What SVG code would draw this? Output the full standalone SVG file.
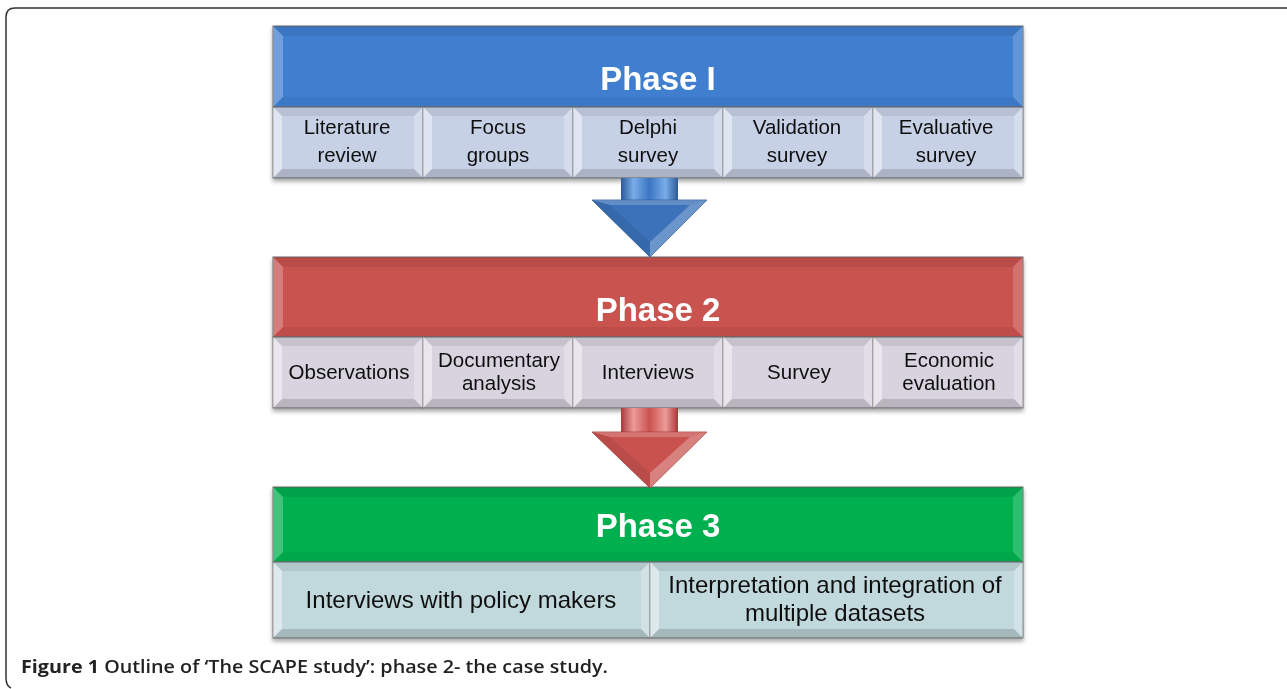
<svg xmlns="http://www.w3.org/2000/svg" xmlns:xlink="http://www.w3.org/1999/xlink" width="1287" height="689" viewBox="0 0 1287 689">
<style>
.hdr{font-family:"Liberation Sans",Arial,sans-serif;font-weight:bold;font-size:33px;fill:#fff;text-anchor:middle}
.lbl{font-family:"Liberation Sans",Arial,sans-serif;font-size:20.5px;fill:#111;text-anchor:middle}
.lbl3{font-family:"Liberation Sans",Arial,sans-serif;font-size:24px;fill:#111;text-anchor:middle}
.cap{font-family:"Open Sans","Liberation Sans",sans-serif;font-size:17.5px;fill:#222;font-weight:600}
.cell{stroke:#6b6b6b;stroke-width:1}
.bt{fill:#000;fill-opacity:0.08}
.bl{fill:#fff;fill-opacity:0.45}
.br{fill:#fff;fill-opacity:0.25}
.bb{fill:#000;fill-opacity:0.14}
.ht{fill:#000;fill-opacity:0.08}
.hl{fill:#fff;fill-opacity:0.25}
.hr{fill:#fff;fill-opacity:0.18}
.hb{fill:#000;fill-opacity:0.05}
</style>
<defs>
<filter id="sh" x="-5%" y="-10%" width="110%" height="130%">
<feDropShadow dx="0" dy="3" stdDeviation="2" flood-color="#000" flood-opacity="0.35"/>
</filter>
<g id="bev">
<polygon class="bt" points="0,0 150,0 141,9 9,9"/>
<polygon class="bl" points="0,0 9,9 9,62 0,71"/>
<polygon class="br" points="150,0 150,71 141,62 141,9"/>
<polygon class="bb" points="0,71 150,71 141,62 9,62"/>
</g>
<linearGradient id="shaftB" x1="0" y1="0" x2="1" y2="0">
<stop offset="0" stop-color="#2c5a96"/>
<stop offset="0.22" stop-color="#79acea"/>
<stop offset="0.5" stop-color="#3b76c2"/>
<stop offset="0.78" stop-color="#79acea"/>
<stop offset="1" stop-color="#2c5a96"/>
</linearGradient>
<linearGradient id="shaftR" x1="0" y1="0" x2="1" y2="0">
<stop offset="0" stop-color="#a23c39"/>
<stop offset="0.22" stop-color="#ee9a97"/>
<stop offset="0.5" stop-color="#c9524f"/>
<stop offset="0.78" stop-color="#ee9a97"/>
<stop offset="1" stop-color="#a23c39"/>
</linearGradient>
</defs>
<rect x="0" y="0" width="1287" height="689" fill="#fff"/>
<path d="M1287 8 H15 Q6 8 6 17 V678 Q6 686 11 688" fill="none" stroke="#333" stroke-width="1.5"/>

<g id="phase1" filter="url(#sh)">
<rect x="273" y="26" width="750" height="81" fill="#3f7fd0" class="cell"/>
<polygon class="ht" points="273,26 1023,26 1013,36 283,36"/>
<polygon class="hl" points="273,26 283,36 283,97 273,107"/>
<polygon class="hr" points="1023,26 1023,107 1013,97 1013,36"/>
<polygon class="hb" points="273,107 1023,107 1013,97 283,97"/>
<text class="hdr" x="658" y="90">Phase I</text>
<g fill="#c7d1e6">
<rect class="cell" x="273" y="107" width="150" height="71"/>
<rect class="cell" x="423" y="107" width="150" height="71"/>
<rect class="cell" x="573" y="107" width="150" height="71"/>
<rect class="cell" x="723" y="107" width="150" height="71"/>
<rect class="cell" x="873" y="107" width="150" height="71"/>
</g>
<use xlink:href="#bev" x="273" y="107"/>
<use xlink:href="#bev" x="423" y="107"/>
<use xlink:href="#bev" x="573" y="107"/>
<use xlink:href="#bev" x="723" y="107"/>
<use xlink:href="#bev" x="873" y="107"/>
<text class="lbl" x="347" y="134">Literature</text><text class="lbl" x="347" y="162">review</text>
<text class="lbl" x="498" y="134">Focus</text><text class="lbl" x="498" y="162">groups</text>
<text class="lbl" x="648" y="134">Delphi</text><text class="lbl" x="648" y="162">survey</text>
<text class="lbl" x="797" y="134">Validation</text><text class="lbl" x="797" y="162">survey</text>
<text class="lbl" x="946" y="134">Evaluative</text><text class="lbl" x="946" y="162">survey</text>
</g>

<g id="phase2" filter="url(#sh)">
<rect x="273" y="257" width="750" height="80" fill="#c9524f" class="cell"/>
<polygon class="ht" points="273,257 1023,257 1013,267 283,267"/>
<polygon class="hl" points="273,257 283,267 283,327 273,337"/>
<polygon class="hr" points="1023,257 1023,337 1013,327 1013,267"/>
<polygon class="hb" points="273,337 1023,337 1013,327 283,327"/>
<text class="hdr" x="658" y="321">Phase 2</text>
<g fill="#d7d3df">
<rect class="cell" x="273" y="337" width="150" height="71"/>
<rect class="cell" x="423" y="337" width="150" height="71"/>
<rect class="cell" x="573" y="337" width="150" height="71"/>
<rect class="cell" x="723" y="337" width="150" height="71"/>
<rect class="cell" x="873" y="337" width="150" height="71"/>
</g>
<use xlink:href="#bev" x="273" y="337"/>
<use xlink:href="#bev" x="423" y="337"/>
<use xlink:href="#bev" x="573" y="337"/>
<use xlink:href="#bev" x="723" y="337"/>
<use xlink:href="#bev" x="873" y="337"/>
<text class="lbl" x="349" y="379">Observations</text>
<text class="lbl" x="499" y="367">Documentary</text><text class="lbl" x="499" y="390">analysis</text>
<text class="lbl" x="648" y="379">Interviews</text>
<text class="lbl" x="799" y="379">Survey</text>
<text class="lbl" x="949" y="367">Economic</text><text class="lbl" x="949" y="390">evaluation</text>
</g>

<g id="phase3" filter="url(#sh)">
<rect x="273" y="487" width="750" height="75" fill="#00b050" class="cell"/>
<polygon class="ht" points="273,487 1023,487 1013,497 283,497"/>
<polygon class="hl" points="273,487 283,497 283,552 273,562"/>
<polygon class="hr" points="1023,487 1023,562 1013,552 1013,497"/>
<polygon class="hb" points="273,562 1023,562 1013,552 283,552"/>
<text class="hdr" x="658" y="537">Phase 3</text>
<g fill="#c1d8dc">
<rect class="cell" x="273" y="562" width="377" height="76"/>
<rect class="cell" x="650" y="562" width="373" height="76"/>
</g>
<polygon class="bt" points="273,562 650,562 641,571 282,571"/>
<polygon class="bl" points="273,562 282,571 282,629 273,638"/>
<polygon class="br" points="650,562 650,638 641,629 641,571"/>
<polygon class="bb" points="273,638 650,638 641,629 282,629"/>
<polygon class="bt" points="650,562 1023,562 1014,571 659,571"/>
<polygon class="bl" points="650,562 659,571 659,629 650,638"/>
<polygon class="br" points="1023,562 1023,638 1014,629 1014,571"/>
<polygon class="bb" points="650,638 1023,638 1014,629 659,629"/>
<text class="lbl3" x="461" y="608">Interviews with policy makers</text>
<text class="lbl3" x="835" y="593">Interpretation and integration of</text>
<text class="lbl3" x="835" y="621">multiple datasets</text>
</g>

<g id="connectors">
<g id="arrow1">
<rect x="621" y="178" width="57" height="23" fill="url(#shaftB)"/>
<polygon points="592,200 707,200 650,257" fill="#3b72ba" stroke="#2c5a96" stroke-width="0.8"/>
<polygon points="592,200 707,200 690,205 610,205" fill="#fff" fill-opacity="0.2"/>
<polygon points="707,200 650,257 650,242 690,205" fill="#fff" fill-opacity="0.25"/>
<polygon points="592,200 650,257 650,242 610,205" fill="#000" fill-opacity="0.08"/>
</g>
<g id="arrow2">
<rect x="621" y="408" width="57" height="25" fill="url(#shaftR)"/>
<polygon points="592,432 707,432 650,488" fill="#c9524f" stroke="#a23c39" stroke-width="0.8"/>
<polygon points="592,432 707,432 690,437 610,437" fill="#fff" fill-opacity="0.2"/>
<polygon points="707,432 650,488 650,473 690,437" fill="#fff" fill-opacity="0.28"/>
<polygon points="592,432 650,488 650,473 610,437" fill="#000" fill-opacity="0.08"/>
</g>
</g>

<text class="cap" x="21" y="673" textLength="587" lengthAdjust="spacingAndGlyphs"><tspan font-weight="bold">Figure 1</tspan> Outline of ‘The SCAPE study’: phase 2- the case study.</text>
</svg>
